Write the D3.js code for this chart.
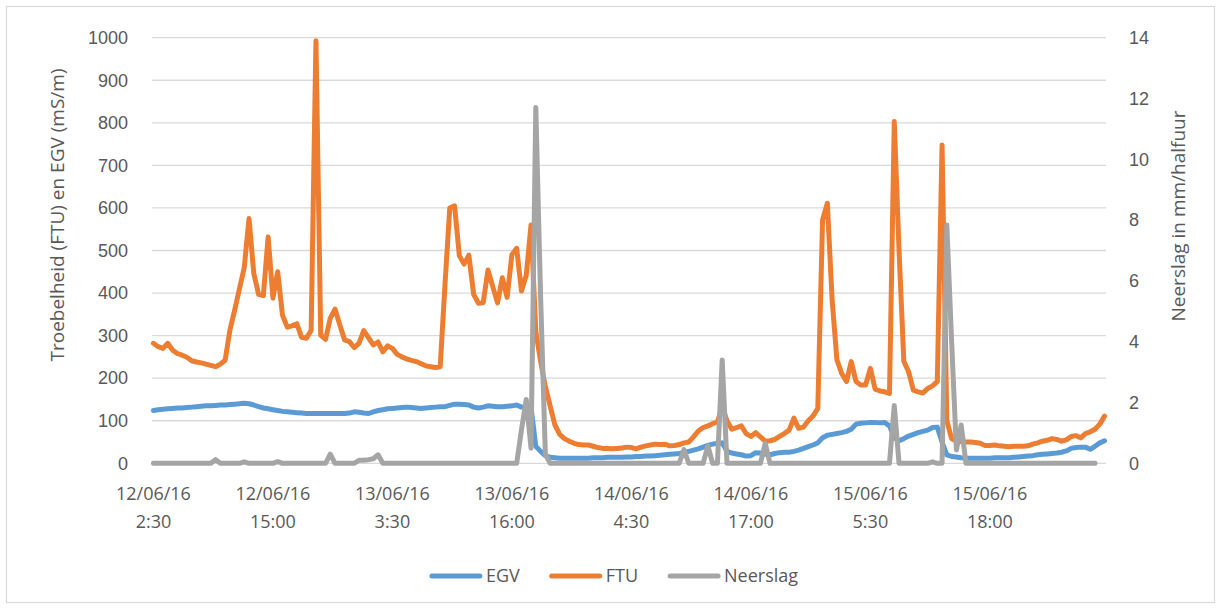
<!DOCTYPE html>
<html lang="nl">
<head>
<meta charset="UTF-8">
<title>Troebelheid, EGV en neerslag</title>
<script src="https://cdn.jsdelivr.net/npm/d3@7"></script>
<style>
  body { margin: 0; background: #fff; }
  svg { display: block; font-family: "Open Sans", "Noto Sans", sans-serif; }
</style>
</head>
<body>
<div id="chart"></div>
<script>
// half-hourly measurements, first one at 12/06/16 2:30
const seriesNames = ["EGV", "FTU", "Neerslag"];

const egv = [124,126,127,128,129,130,130,131,132,133,
  134,135,135,136,137,137,138,139,140,141,
  140,137,133,130,128,126,124,122,121,120,
  119,118,117,117,117,117,117,117,117,117,
  117,118,121,120,118,117,121,124,126,128,
  129,130,131,132,131,130,129,130,131,132,
  133,133,136,139,139,138,137,132,130,132,
  135,134,133,133,134,135,137,132,133,132,
  40,28,18,14,13,12,12,12,12,12,
  12,12,13,13,13,14,14,14,14,15,
  15,16,16,17,17,18,19,20,21,22,
  23,25,28,31,34,38,42,45,47,48,
  28,24,22,20,17,18,25,24,21,20,
  23,25,26,26,28,31,35,39,43,48,
  60,66,68,70,72,75,80,92,94,95,
  96,96,95,96,88,60,53,58,64,68,
  72,75,78,84,85,50,20,16,15,13,
  12,12,12,12,12,12,13,13,13,13,
  14,15,16,17,18,20,21,22,23,24,
  26,29,35,37,38,38,33,40,48,53];

const ftu = [282,274,270,282,266,258,254,249,241,238,
  236,233,230,227,233,242,313,360,410,460,
  575,446,397,394,532,388,450,348,320,323,
  328,296,294,312,993,301,291,341,362,325,
  290,286,272,282,312,295,278,285,262,276,
  270,256,250,245,242,239,234,229,227,225,
  227,420,600,605,488,468,489,397,376,378,
  454,415,377,436,390,490,505,405,442,560,
  310,240,180,135,90,68,58,52,47,44,
  43,43,40,37,35,35,34,35,36,38,
  37,34,38,41,43,45,44,45,41,42,
  44,48,50,62,76,84,88,93,97,133,
  100,80,84,88,70,63,72,62,52,53,
  56,63,70,78,106,82,85,100,111,129,
  572,611,384,243,211,192,239,192,184,184,
  223,174,170,168,164,803,500,240,215,172,
  168,165,176,182,192,748,100,58,52,51,
  50,50,49,47,42,42,43,41,40,39,
  40,40,40,41,45,48,52,54,58,56,
  52,55,63,65,60,70,74,80,92,111];

const neerslag = [0,0,0,0,0,0,0,0,0,0,
  0,0,0,0.12,0,0,0,0,0,0.05,
  0,0,0,0,0,0,0.06,0,0,0,
  0,0,0,0,0,0,0,0.3,0,0,
  0,0,0,0.1,0.1,0.12,0.15,0.28,0,0,
  0,0,0,0,0,0,0,0,0,0,
  0,0,0,0,0,0,0,0,0,0,
  0,0,0,0,0,0,0,1.1,2.1,0.5,
  11.7,5.5,0.3,0,0,0,0,0,0,0,
  0,0,0,0,0,0,0,0,0,0,
  0,0,0,0,0,0,0,0,0,0,
  0,0.45,0,0,0,0,0.57,0,0,3.4,
  0,0,0,0,0,0,0,0,0.66,0,
  0,0,0,0,0,0,0,0,0,0,
  0,0,0,0,0,0,0,0,0,0,
  0,0,0,0,0,1.9,0,0,0,0,
  0,0,0,0.05,0,0,7.84,4.0,0.44,1.26,
  0,0,0,0,0,0,0,0,0,0,
  0,0,0,0,0,0,0,0,0,0,
  0,0,0,0,0,0,0,0];

// one label every 25 half hours
const xTickEvery = 25;
const xTickLabels = [
  ["12/06/16", "2:30"], ["12/06/16", "15:00"], ["13/06/16", "3:30"], ["13/06/16", "16:00"],
  ["14/06/16", "4:30"], ["14/06/16", "17:00"], ["15/06/16", "5:30"], ["15/06/16", "18:00"]
];
const leftTicks = [0,100,200,300,400,500,600,700,800,900,1000];
const rightTicks = [0,2,4,6,8,10,12,14];

const leftTitle = "Troebelheid (FTU) en EGV (mS/m)";
const rightTitle = "Neerslag in mm/halfuur";

const colors = {EGV: "#5b9bd5", FTU: "#ed7d31", Neerslag: "#a5a5a5"};
const textColor = "#595959";

const width = 1221, height = 609;
const plotLeft = 152, plotRight = 1106, plotTop = 37.7, plotBottom = 463.3;
const lineWidth = 5;

const svg = d3.select("#chart").append("svg")
    .attr("width", width)
    .attr("height", height)
    .attr("viewBox", [0, 0, width, height]);

// chart frame
svg.append("rect")
    .attr("x", 6.5).attr("y", 6.5)
    .attr("width", width - 13).attr("height", height - 13)
    .attr("fill", "#fff")
    .attr("stroke", "#d9d9d9")
    .attr("stroke-width", 1.2);

const x = d3.scalePoint()
    .domain(d3.range(ftu.length))
    .range([plotLeft, plotRight])
    .padding(0.3);
const yL = d3.scaleLinear([0, 1000], [plotBottom, plotTop]);
const yR = d3.scaleLinear([0, 14], [plotBottom, plotTop]);

// gridlines
svg.append("g")
  .selectAll("line")
  .data(leftTicks)
  .join("line")
    .attr("x1", plotLeft).attr("x2", plotRight)
    .attr("y1", d => yL(d)).attr("y2", d => yL(d))
    .attr("stroke", "#d9d9d9")
    .attr("stroke-width", 1.3);

// left axis
svg.append("g")
    .attr("transform", `translate(${plotLeft},0)`)
    .call(d3.axisLeft(yL).tickValues(leftTicks).tickFormat(d3.format("d")).tickSize(0).tickPadding(24))
    .call(g => g.select(".domain").remove())
    .call(g => g.selectAll("text")
        .attr("fill", textColor)
        .attr("font-size", 18)
        .attr("font-family", null));

// right axis
svg.append("g")
    .attr("transform", `translate(${plotRight},0)`)
    .call(d3.axisRight(yR).tickValues(rightTicks).tickSize(0).tickPadding(23))
    .call(g => g.select(".domain").remove())
    .call(g => g.selectAll("text")
        .attr("fill", textColor)
        .attr("font-size", 18)
        .attr("font-family", null));

// bottom labels, two lines each
const xt = svg.append("g")
  .selectAll("text")
  .data(xTickLabels)
  .join("text")
    .attr("text-anchor", "middle")
    .attr("fill", textColor)
    .attr("font-size", 18);
xt.append("tspan")
    .attr("x", (d, k) => x(k * xTickEvery))
    .attr("y", 500)
    .text(d => d[0]);
xt.append("tspan")
    .attr("x", (d, k) => x(k * xTickEvery))
    .attr("y", 528)
    .text(d => d[1]);

// axis titles
svg.append("text")
    .attr("transform", "translate(64,215) rotate(-90)")
    .attr("text-anchor", "middle")
    .attr("fill", textColor)
    .attr("font-size", 19)
    .text(leftTitle);

svg.append("text")
    .attr("transform", "translate(1185,216) rotate(-90)")
    .attr("text-anchor", "middle")
    .attr("fill", textColor)
    .attr("font-size", 19)
    .text(rightTitle);

// lines
const lineL = d3.line().x((d, i) => x(i)).y(d => yL(d));
const lineR = d3.line().x((d, i) => x(i)).y(d => yR(d));

const series = [
  {name: "EGV", values: egv, line: lineL},
  {name: "FTU", values: ftu, line: lineL},
  {name: "Neerslag", values: neerslag, line: lineR}
];

svg.append("g")
  .selectAll("path")
  .data(series)
  .join("path")
    .attr("d", d => d.line(d.values))
    .attr("fill", "none")
    .attr("stroke", d => colors[d.name])
    .attr("stroke-width", lineWidth)
    .attr("stroke-linejoin", "round")
    .attr("stroke-linecap", "round");

// legend
const legend = svg.append("g");
let lx = 0;
seriesNames.forEach(name => {
  const item = legend.append("g").attr("transform", `translate(${lx},0)`);
  item.append("line")
      .attr("x1", 2).attr("x2", 50)
      .attr("y1", 0).attr("y2", 0)
      .attr("stroke", colors[name])
      .attr("stroke-width", lineWidth)
      .attr("stroke-linecap", "round");
  const t = item.append("text")
      .attr("x", 56)
      .attr("dy", "0.35em")
      .attr("fill", textColor)
      .attr("font-size", 18)
      .text(name);
  lx += 56 + t.node().getComputedTextLength() + 30;
});
lx -= 30;
legend.attr("transform", `translate(${614 - lx / 2},576)`);
</script>
</body>
</html>
